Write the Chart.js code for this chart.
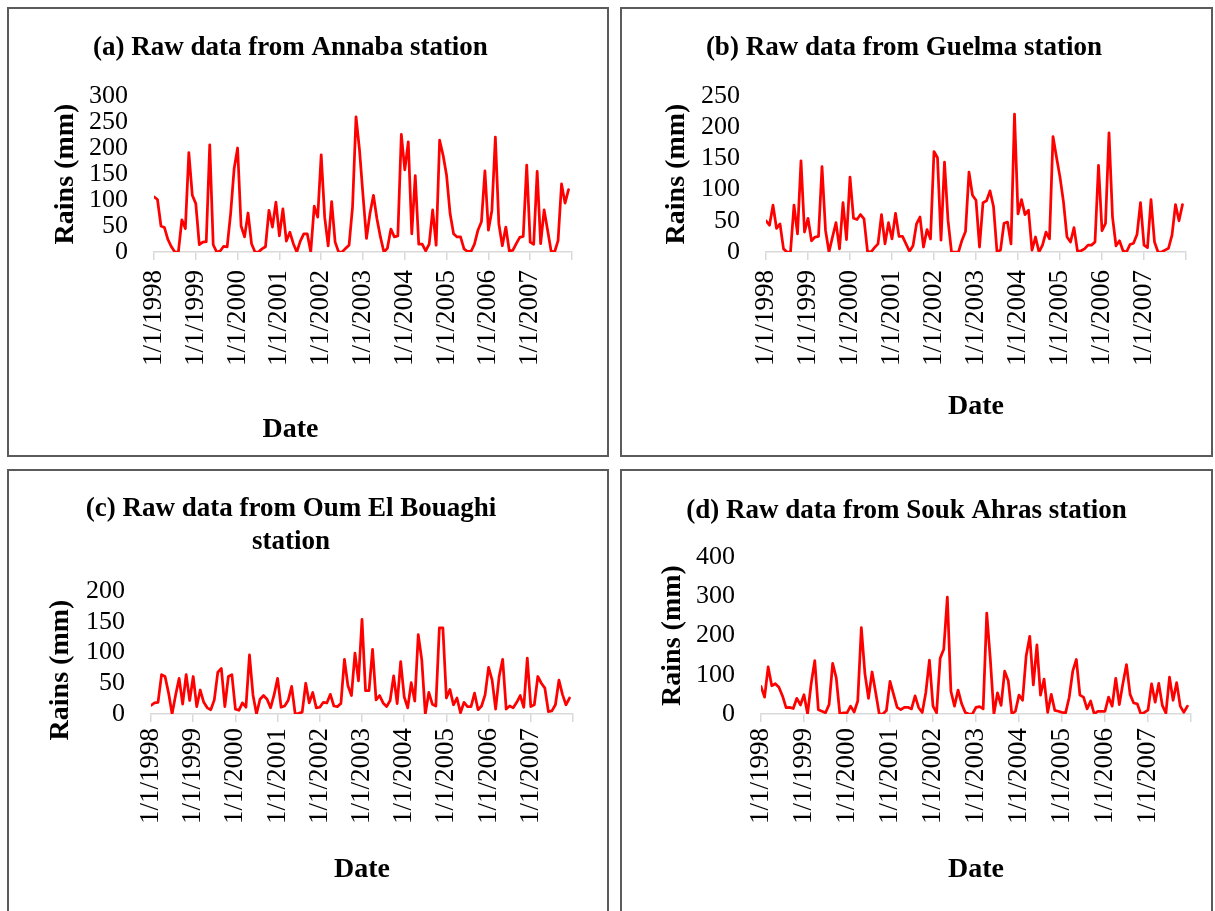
<!DOCTYPE html>
<html>
<head>
<meta charset="utf-8">
<script src="https://cdn.jsdelivr.net/npm/chart.js@4.4.1/dist/chart.umd.min.js"></script>
<style>
  body { margin: 0; background: #fff; width: 1215px; height: 911px; overflow: hidden; position: relative; }
  .panel { position: absolute; box-sizing: border-box; border: 2px solid #5b5b5b; background: #fff; }
  .panel canvas { position: absolute; left: 0; top: 0; }
</style>
</head>
<body>
<div class="panel" style="left:7px;top:7px;width:602px;height:450px"><canvas id="chartA" width="598" height="446"></canvas></div>
<div class="panel" style="left:620px;top:7px;width:593px;height:450px"><canvas id="chartB" width="589" height="446"></canvas></div>
<div class="panel" style="left:7px;top:469px;width:602px;height:450px"><canvas id="chartC" width="598" height="446"></canvas></div>
<div class="panel" style="left:620px;top:469px;width:593px;height:450px"><canvas id="chartD" width="589" height="446"></canvas></div>
<script>
// monthly rainfall (mm), Jan 1998 .. Dec 2007
const yearLabels = ['1/1/1998', '1/1/1999', '1/1/2000', '1/1/2001', '1/1/2002',
                    '1/1/2003', '1/1/2004', '1/1/2005', '1/1/2006', '1/1/2007'];

const annabaRain = [106,101,50,47,24,10,0,0,62,45,
  191,109,93,14,19,20,206,14,0,2,
  11,10,74,160,200,50,29,75,16,0,
  0,6,10,80,48,96,31,83,21,38,
  16,0,21,35,35,0,88,67,187,67,
  12,97,19,0,0,7,13,87,260,196,
  109,26,74,109,64,29,0,7,44,29,
  31,226,158,212,35,147,15,15,2,15,
  81,13,215,186,147,74,35,29,29,6,
  1,1,15,42,58,156,42,80,221,54,
  12,48,2,3,16,28,30,167,19,15,
  155,16,81,42,2,0,22,131,94,120];

const guelmaRain = [50,43,75,38,45,5,0,0,75,29,
  146,32,54,18,24,25,137,35,0,24,
  47,5,79,20,120,54,52,60,53,1,
  0,7,13,60,13,47,21,62,25,25,
  13,1,10,45,56,8,36,21,161,151,
  19,144,51,0,0,0,19,33,128,91,
  83,8,79,82,98,73,0,3,46,48,
  13,221,61,84,60,67,3,24,0,11,
  32,21,185,152,120,80,24,16,39,1,
  2,5,11,11,16,139,34,46,191,56,
  10,18,2,0,12,14,28,79,11,7,
  84,16,0,0,3,6,27,76,50,76];

const oumElBouaghiRain = [14,18,19,64,61,34,0,31,58,16,
  64,22,61,12,39,19,10,7,23,68,
  74,12,61,64,8,6,18,11,96,31,
  0,24,30,24,10,31,58,11,13,22,
  45,0,1,3,50,18,35,10,11,19,
  18,32,13,12,17,89,46,30,99,54,
  154,38,38,105,23,30,18,12,22,62,
  17,85,28,10,51,21,129,88,0,35,
  16,13,140,140,26,40,15,26,2,19,
  12,12,34,7,13,31,76,55,8,61,
  89,8,13,10,19,30,11,91,12,15,
  61,50,42,4,5,15,55,32,15,26];

const soukAhrasRain = [70,43,120,72,77,68,46,16,17,14,
  40,23,49,0,77,136,11,7,3,24,
  129,92,0,3,3,20,5,33,220,103,
  40,107,55,0,0,9,83,50,17,11,
  17,17,13,46,16,4,55,137,20,3,
  142,165,298,58,20,61,26,4,0,0,
  17,19,13,257,139,0,54,22,109,85,
  0,7,48,35,148,198,74,176,48,89,
  4,50,9,7,4,3,42,109,139,48,
  43,13,33,0,7,7,7,43,20,91,
  24,78,126,50,28,26,0,4,10,77,
  30,78,22,2,94,35,80,20,4,20];

const yTicksA = [0, 50, 100, 150, 200, 250, 300];
const yTicksB = [0, 50, 100, 150, 200, 250];
const yTicksC = [0, 50, 100, 150, 200];
const yTicksD = [0, 100, 200, 300, 400];

const FONT = 'Liberation Serif';
Chart.defaults.color = '#000';
Chart.defaults.font.family = FONT;

const monthTicks = yearLabels.map((_, k) => k * 12).concat(120);

function drawPanel(canvasId, p) {
  const cv = document.getElementById(canvasId);
  const W = cv.width;
  const bold = { family: FONT, size: 28, weight: 'bold' };
  return new Chart(cv, {
    type: 'line',
    data: {
      datasets: [{
        data: p.values.map((v, i) => ({ x: i, y: v })),
        borderColor: '#ff0000',
        borderWidth: 2.75,
        pointRadius: 0,
        tension: 0,
        borderJoinStyle: 'round',
        borderCapStyle: 'round'
      }]
    },
    options: {
      responsive: false,
      animation: false,
      layout: { padding: { left: 0, right: W - p.right, top: 0, bottom: 0 } },
      plugins: {
        legend: { display: false },
        tooltip: { enabled: false },
        title: {
          display: true, text: p.title,
          font: { family: FONT, size: 27, weight: 'bold', lineHeight: 1.23 },
          padding: p.titlePad
        },
        subtitle: p.dateBelow
          ? { display: true, position: 'bottom', text: 'Date', font: bold, padding: { top: 0, bottom: 8 } }
          : { display: false }
      },
      scales: {
        x: {
          type: 'linear', min: 0, max: 120,
          afterBuildTicks: s => { s.ticks = monthTicks.map(v => ({ value: v })); },
          afterFit: s => { s.height = p.xHeight; s.paddingLeft = 0; s.paddingRight = 0; },
          ticks: {
            autoSkip: false, minRotation: 90, maxRotation: 90,
            padding: p.xTickPad,
            font: { family: FONT, size: 27 },
            callback: v => yearLabels[v / 12] || ''
          },
          grid: { drawOnChartArea: false, color: '#d9d9d9', lineWidth: 1.5, tickLength: 8 },
          border: { color: '#d9d9d9', width: 1.5 },
          title: p.dateBelow
            ? { display: false }
            : { display: true, text: 'Date', font: bold, padding: { top: 0, bottom: p.dateBottom } }
        },
        y: {
          min: 0, max: p.yTicks[p.yTicks.length - 1],
          afterBuildTicks: s => { s.ticks = p.yTicks.map(v => ({ value: v })); },
          afterFit: s => { s.width = p.left; },
          ticks: { autoSkip: false, padding: 26, font: { family: FONT, size: 26, lineHeight: 1 } },
          grid: { display: false, drawTicks: false },
          border: { display: false },
          title: { display: true, text: p.yTitle || 'Rains (mm)', font: bold, padding: { top: p.yTitlePad, bottom: 0 } }
        }
      }
    }
  });
}

drawPanel('chartA', {
  values: annabaRain, yTicks: yTicksA,
  title: '(a) Raw data from Annaba station',
  left: 145, right: 563, titlePad: { top: 22, bottom: 31.8 },
  yTitlePad: 40, xHeight: 161.4, xTickPad: 10, dateBelow: true
});
drawPanel('chartB', {
  values: guelmaRain, yTicks: yTicksB,
  title: '(b) Raw data from Guelma station',
  left: 144, right: 564, titlePad: { top: 22, bottom: 31.8 },
  yTitlePad: 38, xHeight: 203, xTickPad: 10, dateBottom: 31
});
drawPanel('chartC', {
  values: oumElBouaghiRain, yTicks: yTicksC,
  title: ['(c) Raw data from Oum El Bouaghi', 'station'],
  left: 142, right: 564, titlePad: { top: 21.5, bottom: 32.1 },
  yTitle: 'Rains (mm)     ',
  yTitlePad: 35, xHeight: 203, xTickPad: 6, dateBottom: 30
});
drawPanel('chartD', {
  values: soukAhrasRain, yTicks: yTicksD,
  title: '(d) Raw data from Souk Ahras station',
  left: 139, right: 569, titlePad: { top: 23, bottom: 29.8 },
  yTitlePad: 34, xHeight: 203, xTickPad: 6, dateBottom: 30
});
</script>
</body>
</html>
